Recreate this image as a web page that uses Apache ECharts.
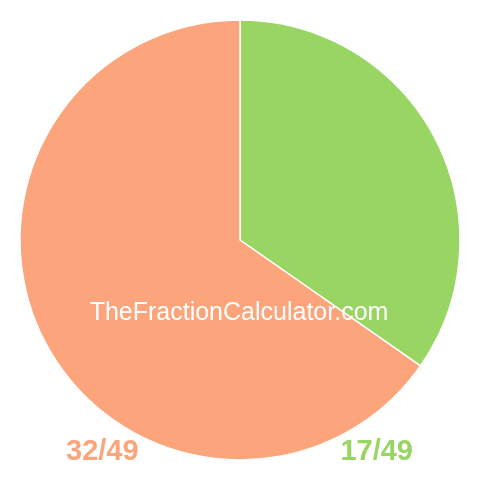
<!DOCTYPE html>
<html><head><meta charset="utf-8">
<script src="https://cdn.jsdelivr.net/npm/echarts@6/dist/echarts.min.js"></script>
<style>html,body{margin:0;padding:0;background:#fff}#c{width:480px;height:480px}</style>
</head><body><div id="c"></div>
<script>
const categories = ['17/49', '32/49'];
const values = [17, 32];
const colors = ['#98D562', '#FCA57C'];
const watermark = 'TheFractionCalculator.com';

const chart = echarts.init(document.getElementById('c'));
chart.setOption({
  animation: false,
  graphic: [
    { type: 'text', z: 100, style: { text: watermark, x: 239, y: 313, textAlign: 'center', textVerticalAlign: 'middle',
      fill: '#fff', font: 'normal 25px "Liberation Sans", Arial, sans-serif' } },
    { type: 'text', z: 100, style: { text: categories[1], x: 66, y: 452, textAlign: 'left', textVerticalAlign: 'middle',
      fill: colors[1], font: 'bold 29px "Liberation Sans", Arial, sans-serif' } },
    { type: 'text', z: 100, style: { text: categories[0], x: 413, y: 452, textAlign: 'right', textVerticalAlign: 'middle',
      fill: colors[0], font: 'bold 29px "Liberation Sans", Arial, sans-serif' } }
  ],
  series: [{
    type: 'pie',
    center: [240, 240],
    radius: [0, 220],
    startAngle: 90,
    clockwise: true,
    label: { show: false },
    labelLine: { show: false },
    emphasis: { disabled: true },
    itemStyle: { borderColor: '#fff', borderWidth: 1.5 },
    data: categories.map((c, i) => ({ name: c, value: values[i], itemStyle: { color: colors[i] } }))
  }]
});
</script></body></html>
